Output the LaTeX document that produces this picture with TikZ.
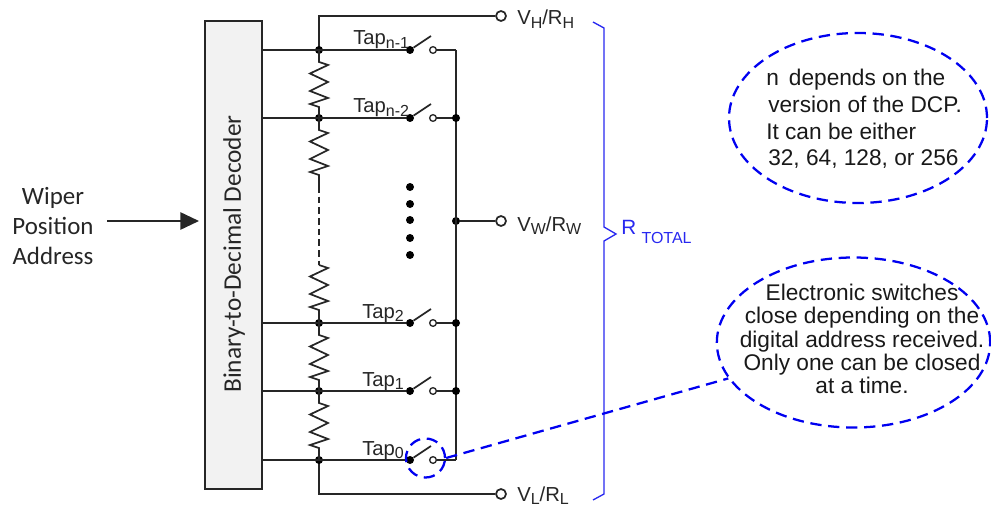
\documentclass[tikz,border=0pt]{standalone}
\usepackage{fontspec}
\setmainfont{Liberation Sans}
\newfontfamily\carlito{Carlito}
\usetikzlibrary{arrows.meta}
\usetikzlibrary{shapes.geometric}
\definecolor{noteblue}{RGB}{0,0,240}
\definecolor{bracktext}{RGB}{40,40,240}
\newcommand{\subtext}[1]{\raisebox{-2.5pt}{\fontsize{12}{14}\selectfont #1}}
\tikzset{
	wire/.style={draw=black!85,line width=1.3pt},
	joint/.style={circle,fill=black,inner sep=0pt,minimum size=6pt},
	opencontact/.style={circle,draw=black!85,fill=white,line width=1pt,inner sep=0pt,minimum size=5pt},
	terminal/.style={circle,draw=black!85,fill=white,line width=1.3pt,inner sep=0pt,minimum size=7.5pt},
	note/.style={draw=noteblue,line width=1.7pt,dash pattern=on 8.5pt off 5pt},
	label/.style={font=\fontsize{15.2}{17}\selectfont,text=black!85,inner sep=0pt},
	notetext/.style={font=\fontsize{17}{20}\selectfont,text=black!90,inner sep=0pt,align=center}
}
\begin{document}
\begin{tikzpicture}[x=0.75pt,y=-0.75pt]
	\useasboundingbox (0,0) rectangle (991,506);
	% decoder block
	\node[draw=black!85,fill=black!5,line width=1.3pt,minimum width=42.75pt,minimum height=351pt,inner sep=0pt] (decoder) at (233.5,255) {};
	\node[rotate=90,font=\carlito\fontsize{19}{22}\selectfont,text=black!85] (decodertext) at (234,254) {Binary-to-Decimal Decoder};
	\node[font=\carlito\fontsize{18.7}{22.5}\selectfont,align=center,text=black!85] (address) at (53,226) {Wiper\\Position\\Address};
	\coordinate (addrstart) at (107,221);
	\coordinate (addrend) at (199,221);
	\draw[wire,-{Triangle[length=14pt,width=13pt]}] (addrstart) -- (addrend);
	% rails and terminals
	\coordinate (railtop) at (319,16);
	\coordinate (railbot) at (319,494);
	\node[terminal] (vh) at (501,16) {};
	\node[terminal] (vw) at (501,221) {};
	\node[terminal] (vl) at (501,494) {};
	\coordinate (outtop) at (456,50);
	\coordinate (outbot) at (456,460);
	\node[joint] (outmid) at (456,221) {};
	\draw[wire] (vh) -- (railtop) -- (319,50);
	\draw[wire] (vl) -- (railbot) -- (319,460);
	\draw[wire] (outtop) -- (outbot);
	\draw[wire] (outmid) -- (vw);
	\node[label,anchor=base west] (vhtext) at (517,25) {V\subtext{H}/R\subtext{H}};
	\node[label,anchor=base west] (vwtext) at (517,231) {V\subtext{W}/R\subtext{W}};
	\node[label,anchor=base west] (vltext) at (517,501) {V\subtext{L}/R\subtext{L}};
	% tap lines with their switches
	\foreach \row/\ypos/\tapname/\xname in {a/50/n-1/353,b/118/n-2/353,c/323/2/362,d/391/1/362,e/460/0/362} {
		\begin{scope}[yshift=-0.75*\ypos pt]
			\node[joint] (bus\row) at (319,0) {};
			\node[joint] (left\row) at (410,0) {};
			\node[opencontact] (right\row) at (433,0) {};
			\coordinate (blade\row) at (431,-14);
			\coordinate (drive\row) at (262,0);
			\coordinate (out\row) at (456,0);
			\draw[wire] (drive\row) -- (left\row);
			\draw[wire] (right\row) -- (out\row);
			\draw[wire] (left\row) -- (blade\row);
			\node[label,anchor=base west] (tap\row) at (\xname,-5) {Tap\subtext{\tapname}};
		\end{scope}
	}
	\foreach \ypos in {118,323,391} {
		\node[joint] at (456,\ypos) {};
	}
	% resistors
	\foreach \ytop/\ystart/\yend in {50/62/118,118/130/186,265/265/323,323/335/391,391/403/460} {
		\draw[wire,line join=miter] (319,\ytop) -- (319,\ystart) -- ++(9,3) -- ++(-18,8.5) -- ++(18,8.5) -- ++(-18,9) -- ++(18,7) -- ++(-18,6) -- ++(9,3) -- (319,\yend);
	}
	\draw[wire,line width=2pt,dash pattern=on 5pt off 3pt] (319,186) -- (319,265);
	\foreach \ypos in {187,204,220,238,255} {
		\node[joint] at (410,\ypos) {};
	}
	% total resistance brace
	\draw[bracktext,line width=1pt] (593,22) -- (604,28) -- (604,227) -- (616,234) -- (604,241) -- (604,494) -- (593,500);
	\node[label,anchor=base west,text=bracktext] (rtotal) at (621,234) {\fontsize{15.5}{18}\selectfont R\hspace{4pt}\raisebox{-6.75pt}{\fontsize{12}{14}\selectfont TOTAL}};
	% notes
	\node[note,ellipse,minimum width=193.5pt,minimum height=127.5pt,inner sep=0pt] (notea) at (858,118) {};
	\node[notetext,align=left,anchor=west] (noteatext) at (766,119) {n\, depends on the\\\hspace*{1.5pt}version of the DCP.\\It can be either\\\hspace*{1.5pt}32, 64, 128, or 256};
	\node[note,ellipse,minimum width=205pt,minimum height=127.5pt,inner sep=0pt] (noteb) at (853.5,342.5) {};
	\node[notetext,font=\fontsize{17}{17.4}\selectfont] (notebtext) at (862,339) {Electronic switches\\close depending on the\\digital address received.\\Only one can be closed\\at a time.};
	\node[note,circle,minimum size=29.25pt,inner sep=0pt] (ring) at (425.5,458) {};
	\draw[note] (ring.east) -- (noteb.196);
\end{tikzpicture}
\end{document}
